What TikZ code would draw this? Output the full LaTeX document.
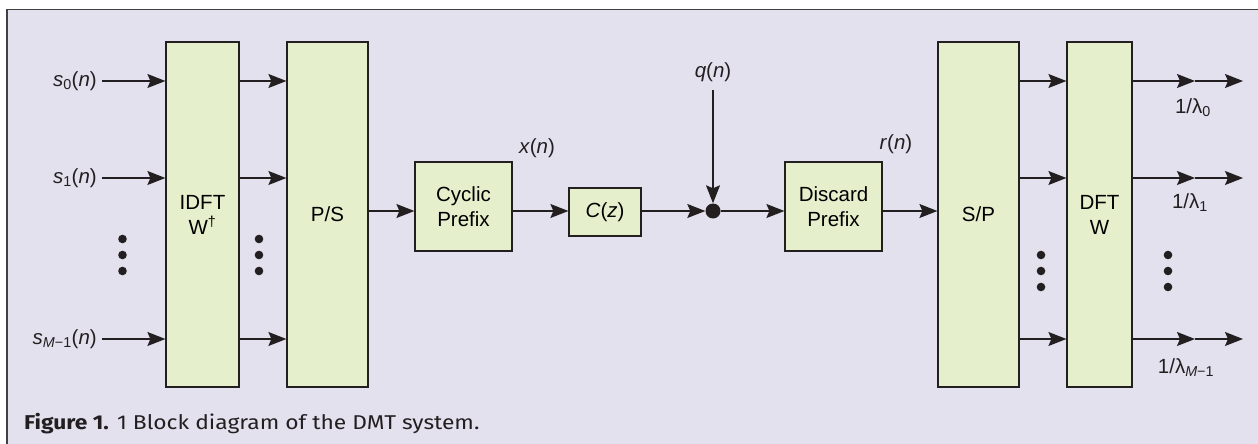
\documentclass[tikz,border=0pt]{standalone}
\usepackage{fontspec}
\setmainfont{Liberation Sans}
\newfontfamily\capfont[FakeStretch=1.14]{Fira Sans}
\usetikzlibrary{arrows.meta}
\definecolor{bgc}{RGB}{228,225,239}
\definecolor{boxc}{RGB}{230,239,203}
\definecolor{linec}{RGB}{35,31,32}
\begin{document}
\begin{tikzpicture}[x=1pt,y=-1pt,
  blk/.style={draw=linec,line width=1.2pt,fill=boxc,inner sep=0pt,align=center,
    font=\fontsize{20.5}{25}\selectfont},
  arr/.style={line width=1.3pt,draw=linec,-{Stealth[length=18pt,width=14pt,inset=3pt]}},
  lab/.style={inner sep=0pt,font=\fontsize{20.5}{24}\selectfont,text=linec},
  smalldot/.style={circle,fill=linec,inner sep=0pt,minimum size=8.6pt},
]
\useasboundingbox (0,0) rectangle (1258,444);
\fill[bgc] (7,9.5) rectangle (1262,448);
\draw[line width=1.2pt,draw=black!75] (1262,9.5) -- (7,9.5) -- (7,448);
% rows
\coordinate (r0) at (0,81);
\coordinate (r1) at (0,178);
\coordinate (r2) at (0,339);
\coordinate (mainy) at (0,211);
% blocks
\node[blk,minimum width=73pt,minimum height=345pt] (idft) at (202.5,214.5) {IDFT\\W\textsuperscript{†}};
\node[blk,minimum width=81pt,minimum height=345pt] (ps) at (327.5,214.5) {P/S};
\node[blk,minimum width=97pt,minimum height=89pt] (cp) at (463.5,206.5) {Cyclic\\Prefix};
\node[blk,minimum width=72pt,minimum height=48pt] (cz) at (605,212) {\textit{C}(\textit{z})};
\node[circle,fill=linec,inner sep=0pt,minimum size=15pt] (sum) at (713,211) {};
\node[blk,minimum width=97pt,minimum height=89pt] (dp) at (833.5,206.5) {Discard\\Prefix};
\node[blk,minimum width=81pt,minimum height=345pt] (sp) at (978.5,214.5) {S/P};
\node[blk,minimum width=65pt,minimum height=345pt] (dft) at (1099.5,214.5) {DFT\\W};
% inputs
\node[lab,anchor=east] (s0) at (97,81) {\textit{s}\textsubscript{0}(\textit{n})};
\node[lab,anchor=east] (s1) at (97,178) {\textit{s}\textsubscript{1}(\textit{n})};
\node[lab,anchor=east] (s2) at (97,339) {\textit{s}\textsubscript{\textit{M}−1}(\textit{n})};
\draw[arr] ([xshift=5pt]s0.east) -- (idft.west |- r0);
\draw[arr] ([xshift=5pt]s1.east) -- (idft.west |- r1);
\draw[arr] ([xshift=5pt]s2.east) -- (idft.west |- r2);
\draw[arr] (idft.east |- r0) -- (ps.west |- r0);
\draw[arr] (idft.east |- r1) -- (ps.west |- r1);
\draw[arr] (idft.east |- r2) -- (ps.west |- r2);
% dots
\foreach \i/\y in {1/239,2/255,3/271}{
  \node[smalldot] (da\i) at (122.5,\y) {};
  \node[smalldot] (db\i) at (259,\y) {};
}
\foreach \i/\y in {1/255,2/271,3/287}{
  \node[smalldot] (dc\i) at (1041,\y) {};
  \node[smalldot] (dd\i) at (1168,\y) {};
}
% main chain
\draw[arr] (ps.east |- mainy) -- (cp.west |- mainy);
\draw[arr] (cp.east |- mainy) -- (cz.west |- mainy);
\draw[arr] (cz.east |- mainy) -- (sum.west);
\draw[arr] (sum.east) -- (dp.west |- mainy);
\draw[arr] (dp.east |- mainy) -- (sp.west |- mainy);
\node[lab] (qn) at (713,72) {\textit{q}(\textit{n})};
\coordinate (qtop) at (713,90);
\draw[arr] (qtop) -- (sum.north);
\node[lab] (xn) at (537,148) {\textit{x}(\textit{n})};
\node[lab] (rn) at (896,144) {\textit{r}(\textit{n})};
% receiver
\draw[arr] (sp.east |- r0) -- (dft.west |- r0);
\draw[arr] (sp.east |- r1) -- (dft.west |- r1);
\draw[arr] (sp.east |- r2) -- (dft.west |- r2);
\coordinate (m0) at (1195,81);  \coordinate (e0) at (1243,81);
\coordinate (m1) at (1195,178); \coordinate (e1) at (1243,178);
\coordinate (m2) at (1195,339); \coordinate (e2) at (1243,339);
\draw[arr] (dft.east |- r0) -- (m0); \draw[arr] (m0) -- (e0);
\draw[arr] (dft.east |- r1) -- (m1); \draw[arr] (m1) -- (e1);
\draw[arr] (dft.east |- r2) -- (m2); \draw[arr] (m2) -- (e2);
\node[lab] (l0) at (1193,108) {1/λ\textsubscript{0}};
\node[lab] (l1) at (1190,203) {1/λ\textsubscript{1}};
\node[lab] (l2) at (1186,368) {1/λ\textsubscript{\textit{M}−1}};
% caption
\node[anchor=base west,inner sep=0pt,font=\capfont\fontsize{20}{24}\selectfont,text=linec] (cap) at (24,429.5)
  {\textbf{Figure 1.} 1 Block diagram of the DMT system.};
\end{tikzpicture}
\end{document}
